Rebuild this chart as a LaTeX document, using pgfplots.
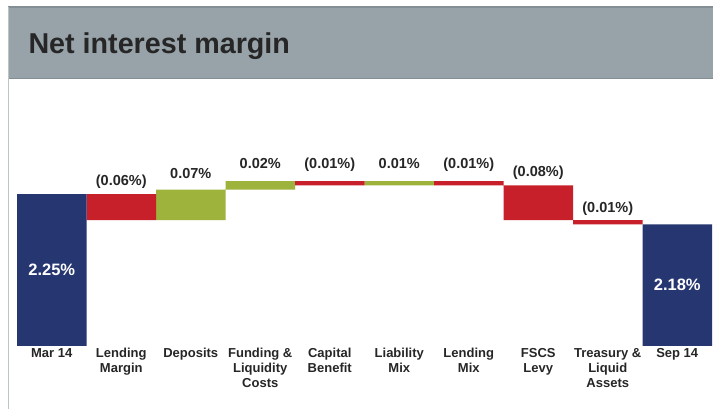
\documentclass[border=0pt]{standalone}
\usepackage{fontspec}
\setmainfont{Liberation Sans}
\usepackage{pgfplots}
\usepackage{pgfplotstable}
\pgfplotsset{compat=1.18}
\definecolor{navy}{HTML}{263670}
\definecolor{wred}{HTML}{C8202A}
\definecolor{wgreen}{HTML}{9DB33C}
\definecolor{titlegrey}{HTML}{97A3A9}
\definecolor{bordergrey}{HTML}{838F95}
\definecolor{frame}{HTML}{BEC3C6}
\definecolor{txt}{HTML}{262626}

\pgfplotstableread{
x base blue red green
0 0 2.25 0 0
1 2.19 0 0.06 0
2 2.19 0 0 0.07
3 2.26 0 0 0.02
4 2.27 0 0.01 0
5 2.27 0 0 0.01
6 2.27 0 0.01 0
7 2.19 0 0.08 0
8 2.18 0 0.01 0
9 0 2.18 0 0
}\wf

% label baselines
\pgfplotstableread{
x y lab
1 2.2703 (0.06\%)
2 2.2864 0.07\%
3 2.3094 0.02\%
4 2.3080 (0.01\%)
5 2.3094 0.01\%
6 2.3080 (0.01\%)
7 2.2915 (0.08\%)
8 2.2081 (0.01\%)
}\deltas

\pgfplotstableread{
x y lab
0 2.075 2.25\%
9 2.04 2.18\%
}\totals

\begin{document}
\begin{tikzpicture}
\useasboundingbox (0,0) rectangle (713pt,409pt);
\fill[white] (0,0) rectangle (713pt,409pt);
\fill[titlegrey] (8pt,331pt) rectangle (713pt,402pt);
\draw[bordergrey, line width=1.2pt] (8pt,402pt) -- (713pt,402pt);
\draw[bordergrey, line width=1.5pt] (8pt,330.5pt) -- (713pt,330.5pt);
\draw[frame, line width=1.5pt] (8.5pt,402pt) -- (8.5pt,0pt);
\node[anchor=base west, inner sep=0pt, text=txt] at (28.3pt,355.7pt)
  {\fontsize{28.7}{28.7}\selectfont\bfseries Net interest margin};

\begin{axis}[
  at={(17pt,63pt)}, anchor=south west,
  scale only axis, width=695pt, height=173.6pt,
  xmin=-0.5, xmax=9.5, ymin=1.90, ymax=2.30,
  ybar stacked, bar width=1,
  axis line style={draw=none},
  major tick length=0pt,
  ytick=\empty,
  xtick={0,...,9},
  xticklabels={Mar 14, {Lending\\Margin}, Deposits, {Funding \&\\Liquidity\\Costs}, {Capital\\Benefit}, {Liability\\Mix}, {Lending\\Mix}, {FSCS\\Levy}, {Treasury \&\\Liquid\\Assets}, Sep 14},
  xticklabel style={align=center, font=\fontsize{13}{15}\selectfont\bfseries, text=txt, anchor=north, inner sep=0pt, yshift=-2pt},
]
\addplot[draw=none, fill=none] table[x=x, y=base] {\wf};
\addplot[draw=none, fill=navy] table[x=x, y=blue] {\wf};
\addplot[draw=none, fill=wred] table[x=x, y=red] {\wf};
\addplot[draw=none, fill=wgreen] table[x=x, y=green] {\wf};
\end{axis}

\begin{axis}[
  at={(17pt,63pt)}, anchor=south west,
  scale only axis, width=695pt, height=173.6pt,
  xmin=-0.5, xmax=9.5, ymin=1.90, ymax=2.30,
  hide axis, clip=false,
]
\addplot[draw=none, mark=none, nodes near coords, point meta=explicit symbolic,
  every node near coord/.append style={anchor=base, inner sep=0pt,
  font=\fontsize{14.5}{14.5}\selectfont\bfseries, text=txt}]
  table[x=x, y=y, meta=lab] {\deltas};
\addplot[draw=none, mark=none, nodes near coords, point meta=explicit symbolic,
  every node near coord/.append style={anchor=center, inner sep=0pt,
  font=\fontsize{16.5}{16.5}\selectfont\bfseries, text=white}]
  table[x=x, y=y, meta=lab] {\totals};
\end{axis}
\end{tikzpicture}
\end{document}
